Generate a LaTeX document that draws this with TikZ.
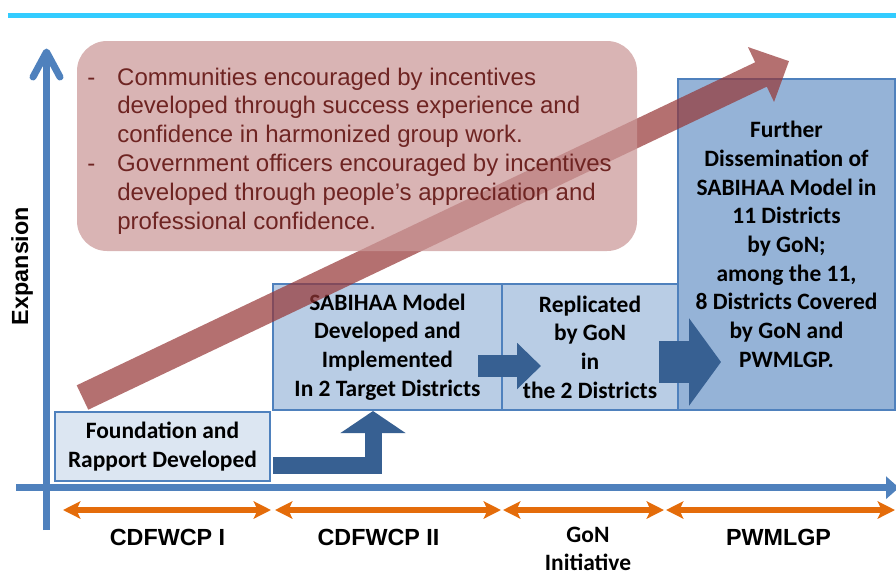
\documentclass[tikz,border=0pt]{standalone}
\usepackage{fontspec}
\setmainfont{Liberation Sans}
\newfontfamily\calibri{Carlito}
\usetikzlibrary{arrows.meta,positioning}
\definecolor{axisblue}{HTML}{4F81BD}
\definecolor{darkblue}{HTML}{376092}
\definecolor{paleblue}{HTML}{DCE6F2}
\definecolor{midblue}{HTML}{B9CDE5}
\definecolor{deepblue}{HTML}{95B3D7}
\definecolor{rulecyan}{HTML}{33CCFF}
\definecolor{phaseorange}{HTML}{E46C0A}
\definecolor{trendred}{RGB}{150,54,54}
\definecolor{notepink}{RGB}{203,152,152}
\definecolor{notefont}{RGB}{110,36,34}

\begin{document}
\begin{tikzpicture}[x=0.75pt,y=-0.75pt,
	stage/.style={draw=axisblue, line width=1.1pt, outer sep=0pt, inner sep=0pt, align=center,
		font=\calibri\bfseries\fontsize{17.6}{21.5}\selectfont},
	phase/.style={align=center, font=\bfseries\fontsize{17.5}{21}\selectfont},
	phasecal/.style={align=center, font=\calibri\bfseries\fontsize{17.6}{20.5}\selectfont},
	span/.style={draw=phaseorange, line width=4pt,
		{Stealth[length=13pt,width=13pt,inset=3pt]}-{Stealth[length=13pt,width=13pt,inset=3pt]}},
	push/.style={draw=darkblue, line cap=butt, line join=miter}]
	\clip (0,0) rectangle (896,576);
	
	%RULE
	\draw[rulecyan, line width=3.4pt] (8,15.5)--(896,15.5);
	
	%AXES
	\draw[axisblue, line width=5.25pt] (46.5,530)--(46.5,53);
	\draw[axisblue, line width=5.25pt, line cap=round, line join=round] (33,77)--(46.5,52)--(60,77);
	\draw[axisblue, line width=5.25pt, -{Triangle[length=9.75pt,width=16.5pt]}] (16,487.7)--(899,487.7);
	\node[phase, rotate=90] (ylab) at (22,266) {Expansion};
	
	%PHASES
	\draw[span] (63,510)--(271,510);
	\draw[span] (275,510)--(501,510);
	\draw[span] (503,510)--(664,510);
	\draw[span] (666,510)--(895,510);
	\node[phase] (cdf1) at (167.5,537) {CDFWCP\ I};
	\node[phase] (cdf2) at (378.5,537) {CDFWCP\ II};
	\node[phasecal] (gon) at (588,549) {GoN\\Initiative};
	\node[phase] (pwm) at (778.5,537) {PWMLGP};
	
	%STAGES
	\node[stage, fill=paleblue, minimum width=161.25pt, minimum height=51.75pt] (found) at (162.5,446.5)
		{Foundation and\\Rapport Developed};
	\node[stage, fill=midblue, minimum width=171.75pt, minimum height=94.5pt] (sabihaa) at (387.5,347)
		{SABIHAA Model\\Developed and\\Implemented\\In 2 Target Districts};
	\node[stage, fill=midblue, minimum width=132pt, minimum height=94.5pt, right=0pt of sabihaa] (repl)
		{Replicated\\by GoN\\in\\the 2 Districts};
	\node[stage, fill=deepblue, minimum width=162.75pt, minimum height=248.25pt, anchor=south west] (further)
		at (repl.south east)
		{Further\\Dissemination of\\SABIHAA Model in\\11 Districts\\by GoN;\\among the 11,\\8 Districts Covered\\by GoN and\\PWMLGP.};
	
	%BLOCK ARROWS
	\draw[push, line width=12.75pt, -{Triangle[length=16.5pt,width=48pt]}]
		([shift={(3,18.5)}]found.east) -| ([shift={(-14.5,1)}]sabihaa.south);
	\draw[push, line width=16.5pt, -{Triangle[length=18pt,width=33.75pt]}]
		([shift={(-24,19)}]sabihaa.east) -- ([shift={(39,19)}]sabihaa.east);
	\draw[push, line width=31.5pt, -{Triangle[length=24pt,width=64.5pt]}]
		([shift={(-19,15)}]repl.east) -- ([shift={(43,15)}]repl.east);
	
	%TREND
	\fill[trendred, fill opacity=0.71, shift={(82.5,397.5)}, rotate=25.46]
		(0,-13.5)--(751.5,-13.5)--(751.5,-30.4)--(782.5,0)--(751.5,30.4)--(751.5,13.5)--(0,13.5)--cycle;
	
	%NOTES
	\fill[notepink, fill opacity=0.73, rounded corners=22.5pt] (77,41) rectangle (637,251);
	\node[anchor=base west, inner sep=0pt, text=notefont, font=\fontsize{18}{21.6}\selectfont] (notes) at (87,85)
		{\begin{tabular}[t]{@{}p{22.5pt}@{}l@{}}
			- & Communities encouraged by incentives\\
			  & developed through success experience and\\
			  & confidence in harmonized group work.\\
			- & Government officers encouraged by incentives\\
			  & developed through people's appreciation and\\
			  & professional confidence.
		\end{tabular}};
\end{tikzpicture}
\end{document}
